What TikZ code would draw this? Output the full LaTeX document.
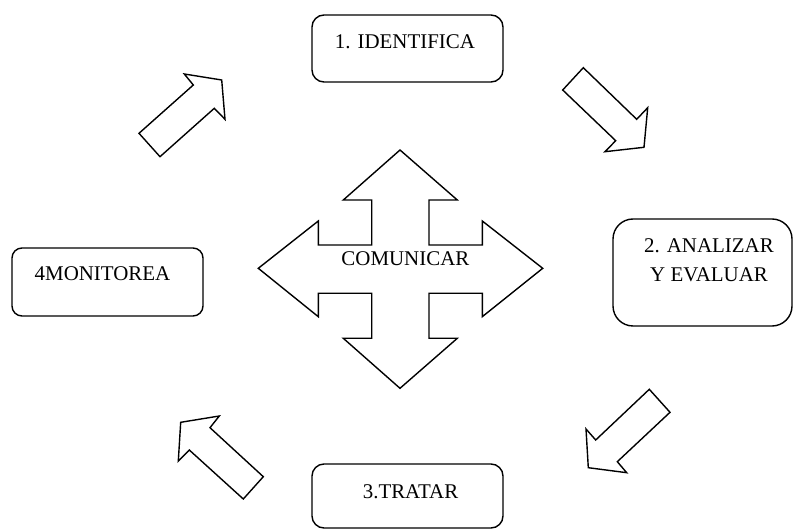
\documentclass[tikz,border=0pt]{standalone}
\usepackage{fontspec}
\setmainfont{Liberation Serif}
\usepackage{tikz}
\tikzset{>=latex}
\tikzset{caja/.style={draw,line width=1.4pt,rounded corners=12bp,inner sep=0pt},
         texto/.style={font=\fontsize{21}{29}\selectfont,align=center,inner sep=0pt},
         flecha/.style={draw,line width=1.4pt,line join=miter}}

\begin{document}
\begin{tikzpicture}[x=1bp,y=-1bp]
            \useasboundingbox (0,0) rectangle (794,529);
            \node[caja,minimum width=191bp,minimum height=67bp] (ident) at (407.5,48.5){};
            \node[caja,minimum width=179bp,minimum height=107bp,rounded corners=20bp] (anal) at (702.5,272.5){};
            \node[caja,minimum width=191bp,minimum height=64bp] (trat) at (407.5,496){};
            \node[caja,minimum width=191bp,minimum height=68bp,rounded corners=10bp] (moni) at (107.5,282){};
            \node[texto] (tident) at (405,41.7){1. IDENTIFICA};
            \node[texto] (tanal) at (709,259.8){2. ANALIZAR\\Y EVALUAR};
            \node[texto] (ttrat) at (410.5,491.5){3.TRATAR};
            \node[texto] (tmoni) at (102.5,274){4MONITOREA};
            \draw[flecha] (400,150) -- (457.3,200) -- (429,200) -- (429,245) -- (482.3,245) -- (482.3,221)
                -- (542.7,268.3) -- (482.3,316.7) -- (482.3,293.3) -- (429,293.3) -- (429,338.3) -- (457.3,338.3)
                -- (400,388.3) -- (343.3,338.3) -- (371.7,338.3) -- (371.7,293.3) -- (318.3,293.3) -- (318.3,316.7)
                -- (258.3,268.3) -- (318.3,221) -- (318.3,245) -- (371.7,245) -- (371.7,200) -- (343.3,200) -- cycle;
            \node[texto] (comu) at (405.4,259){COMUNICAR};
            \draw[flecha] (139,133.3) -- (193.3,85) -- (184.3,74) -- (221.7,80) -- (225,119.3) -- (214.3,108.3) -- (160,156.7) -- cycle;
            \draw[flecha] (583.3,67.7) -- (636.7,119.3) -- (647.7,107.7) -- (644,147.3) -- (605,151.7) -- (615.7,140.7) -- (562.7,90) -- cycle;
            \draw[flecha] (649.3,389.3) -- (670,412.3) -- (617.3,461.7) -- (626.7,472.7) -- (588.3,467.7) -- (586,429) -- (595.7,440) -- cycle;
            \draw[flecha] (263.3,476.7) -- (243.3,499) -- (189.3,450) -- (178.3,461) -- (180.7,422.3) -- (219.3,416) -- (210,427.7) -- cycle;
        \end{tikzpicture}
\end{document}
